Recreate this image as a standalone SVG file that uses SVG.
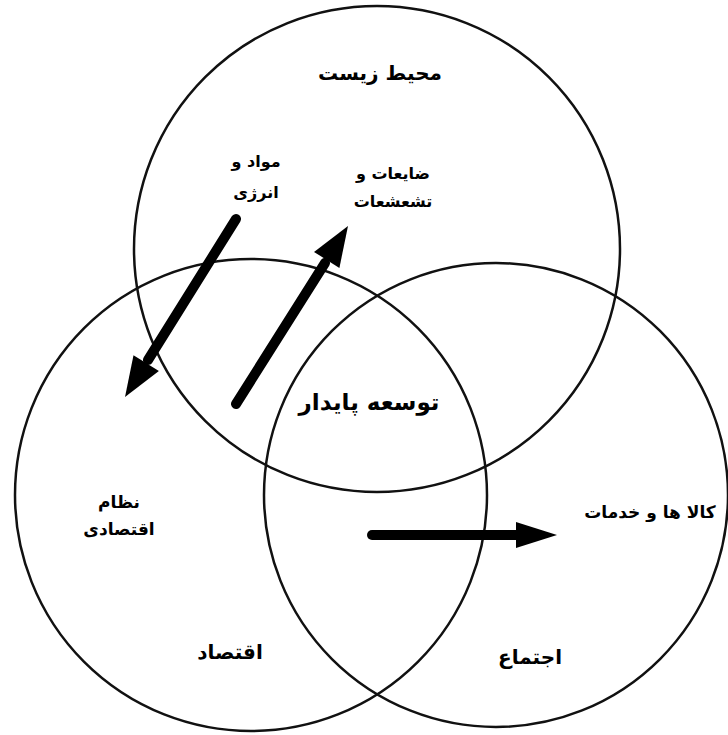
<svg xmlns="http://www.w3.org/2000/svg" width="728" height="735" viewBox="0 0 728 735">
<defs>
<style>
.c{fill:none;stroke:#111;stroke-width:2.5}
.t{font-family:"DejaVu Sans",sans-serif;font-weight:bold;fill:#000;text-anchor:middle}
.a{stroke:#000;stroke-width:10;stroke-linecap:round;fill:none}
.h{fill:#000;stroke:none}
</style>
</defs>
<rect width="728" height="735" fill="#fff"/>
<g id="env"><circle class="c" cx="377" cy="249" r="243"/><text class="t" x="380" y="80" font-size="20">محیط زیست</text></g>
<g id="econ"><circle class="c" cx="251" cy="495" r="236"/><text class="t" x="230" y="659" font-size="20">اقتصاد</text></g>
<g id="soc"><circle class="c" cx="496" cy="495" r="232"/><text class="t" x="530" y="664" font-size="20">اجتماع</text></g>
<g id="center"><text class="t" x="369" y="410" font-size="23">توسعه پایدار</text></g>
<g id="mat"><text class="t" x="256" y="167" font-size="16">مواد و</text><text class="t" x="256" y="198" font-size="16">انرژی</text></g>
<g id="waste"><text class="t" x="393" y="179" font-size="16">ضایعات و</text><text class="t" x="393" y="207" font-size="16">تشعشعات</text></g>
<g id="sys"><text class="t" x="119" y="508" font-size="17">نظام</text><text class="t" x="119" y="535" font-size="17">اقتصادی</text></g>
<g id="goods"><text class="t" x="650" y="518" font-size="17">کالا ها و خدمات</text></g>
<g id="connectors">
<line class="a" x1="236" y1="219" x2="148" y2="360"/>
<polygon class="h" points="125,397 158.9,371 133.5,355.2"/>
<line class="a" x1="236" y1="404" x2="325" y2="263"/>
<polygon class="h" points="348,226 339.4,267.9 314,251.9"/>
<line class="a" x1="372" y1="535" x2="518" y2="535"/>
<polygon class="h" points="557,535 516,522 516,548"/>
</g>
</svg>
